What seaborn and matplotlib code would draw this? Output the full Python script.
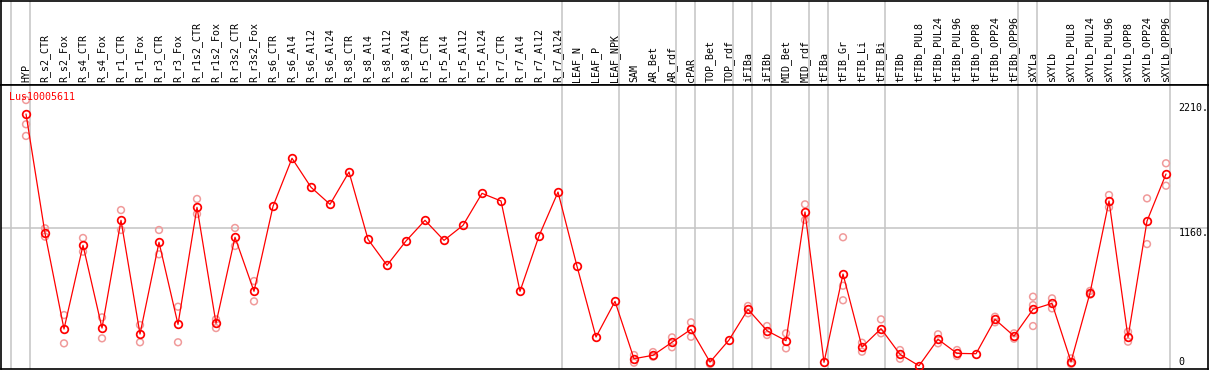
import numpy as np
import pandas as pd
import matplotlib
matplotlib.use("Agg")
import matplotlib.pyplot as plt
import seaborn as sns

# Expression profile for one gene across tissues / treatments
gene = "Lus10005611"

categories = [
    "HYP", "R_s2_CTR", "R_s2_Fox", "R_s4_CTR", "R_s4_Fox", "R_r1_CTR", "R_r1_Fox",
    "R_r3_CTR", "R_r3_Fox", "R_r1s2_CTR", "R_r1s2_Fox", "R_r3s2_CTR", "R_r3s2_Fox",
    "R_s6_CTR", "R_s6_Al4", "R_s6_Al12", "R_s6_Al24", "R_s8_CTR", "R_s8_Al4",
    "R_s8_Al12", "R_s8_Al24", "R_r5_CTR", "R_r5_Al4", "R_r5_Al12", "R_r5_Al24",
    "R_r7_CTR", "R_r7_Al4", "R_r7_Al12", "R_r7_Al24", "LEAF_N", "LEAF_P", "LEAF_NPK",
    "SAM", "AR_Bet", "AR_rdf", "cPAR", "TOP_Bet", "TOP_rdf", "iFIBa", "iFIBb",
    "MID_Bet", "MID_rdf", "tFIBa", "tFIB_Gr", "tFIB_Li", "tFIB_Bi", "tFIBb",
    "tFIBb_PUL8", "tFIBb_PUL24", "tFIBb_PUL96", "tFIBb_OPP8", "tFIBb_OPP24",
    "tFIBb_OPP96", "sXYLa", "sXYLb", "sXYLb_PUL8", "sXYLb_PUL24", "sXYLb_PUL96",
    "sXYLb_OPP8", "sXYLb_OPP24", "sXYLb_OPP96",
]

mean_expr = [
    2118, 1118, 316, 1018, 324, 1227, 274, 1043, 355, 1336, 364, 1085, 632,
    1344, 1747, 1504, 1361, 1632, 1068, 850, 1054, 1227, 1059, 1185, 1453,
    1389, 632, 1096, 1464, 842, 249, 548,
    67, 96, 205, 313, 39, 224, 481, 302, 218, 1297, 37, 777, 165, 319, 104,
    8, 230, 112, 109, 397, 257, 481, 531, 42, 618, 1389, 246, 1221, 1615,
]

# individual replicates (only where they show apart from the mean)
rep_sample = [
    "HYP", "HYP", "HYP", "R_s2_CTR", "R_s2_CTR", "R_s2_Fox", "R_s2_Fox",
    "R_s4_CTR", "R_s4_CTR", "R_s4_Fox", "R_s4_Fox", "R_r1_CTR", "R_r1_CTR",
    "R_r1_Fox", "R_r1_Fox", "R_r3_CTR", "R_r3_CTR", "R_r3_Fox", "R_r3_Fox",
    "R_r1s2_CTR", "R_r1s2_CTR", "R_r1s2_Fox", "R_r1s2_Fox", "R_r3s2_CTR",
    "R_r3s2_CTR", "R_r3s2_Fox", "R_r3s2_Fox",
    "SAM", "SAM", "AR_Bet", "AR_Bet", "AR_rdf", "AR_rdf", "cPAR", "cPAR",
    "TOP_Bet", "TOP_Bet", "iFIBa", "iFIBa", "iFIBb", "iFIBb", "MID_Bet", "MID_Bet",
    "MID_rdf", "MID_rdf", "tFIB_Gr", "tFIB_Gr", "tFIB_Gr", "tFIB_Li", "tFIB_Li",
    "tFIB_Bi", "tFIB_Bi", "tFIBb", "tFIBb", "tFIBb_PUL24", "tFIBb_PUL24",
    "tFIBb_PUL96", "tFIBb_PUL96", "tFIBb_OPP24", "tFIBb_OPP24", "tFIBb_OPP96",
    "tFIBb_OPP96", "sXYLa", "sXYLa", "sXYLa", "sXYLb", "sXYLb", "sXYLb_PUL8",
    "sXYLb_PUL8", "sXYLb_PUL24", "sXYLb_PUL24", "sXYLb_PUL96", "sXYLb_PUL96",
    "sXYLb_OPP8", "sXYLb_OPP8", "sXYLb_OPP24", "sXYLb_OPP24", "sXYLb_OPP96",
    "sXYLb_OPP96",
]
rep_expr = [
    2235, 2032, 1934, 1160, 1090, 433, 196,
    1079, 964, 414, 238, 1313, 1146,
    350, 205, 1146, 942, 503, 205,
    1406, 1280, 397, 324, 1163,
    1012, 718, 548,
    98, 34, 123, 84, 246, 163, 372, 251,
    34, 23, 509, 448, 341, 266, 280, 154,
    1361, 1230, 1085, 679, 557, 201, 126,
    397, 280, 140, 67, 272, 196,
    140, 90, 419, 372, 280,
    235, 587, 517, 341, 573, 489, 70,
    23, 635, 604, 1439, 1336,
    293, 210, 1411, 1028, 1705,
    1517,
]

# last sample of each block -> grey separator drawn just after it
group_last = ["", "HYP", "R_r7_Al24", "LEAF_NPK", "AR_rdf", "cPAR", "TOP_rdf",
              "iFIBa", "iFIBb", "MID_rdf", "tFIBa", "tFIB_Bi", "tFIBb_OPP96",
              "sXYLa", "sXYLb_OPP96"]

ytick_vals = [0, 1160, 2210]
ytick_text = ["0", "1160.", "2210."]

pos = {c: i for i, c in enumerate(categories)}
df = pd.DataFrame({"x": range(len(categories)), "expr": mean_expr})
reps = pd.DataFrame({"x": [pos[s] for s in rep_sample], "expr": rep_expr})
sep_x = [(pos[c] if c else -1) + 0.23 for c in group_last]

sns.set_theme(style="white")
plt.rcParams["font.family"] = ["DejaVu Sans Mono", "DejaVu Sans"]

W, H = 1209, 370
fig = plt.figure(figsize=(W / 100, H / 100), dpi=100)
top = 85
ax_head = fig.add_axes([0.5 / W, (H - top) / H, (W - 1.5) / W, (top - 0.5) / H])
ax = fig.add_axes([1 / W, 1 / H, (W - 2) / W, (H - top - 1) / H])

xlim = (-1.316, 62.21)
ylim = (-19, 2361)

red = "#ff0000"
pale = "#f09a9a"
grey = "#c4c4c4"

for a in (ax_head, ax):
    a.set_xlim(*xlim)
    for s in a.spines.values():
        s.set_color("black")
        s.set_linewidth(1.2)
    for xs in sep_x:
        a.axvline(xs, color=grey, lw=1.1, zorder=0)

ax_head.set_ylim(0, 1)
ax_head.set_xticks([])
ax_head.set_yticks([])
ax_head.patch.set_alpha(0)

ax.axhline(1160, color=grey, lw=1.1, zorder=0)

sns.scatterplot(data=reps, x="x", y="expr", ax=ax, marker="o", s=24,
                color=pale, facecolor="none", edgecolor=pale, linewidth=1.1,
                zorder=2, legend=False)
sns.lineplot(data=df, x="x", y="expr", ax=ax, color=red, lw=0.9,
             marker="o", markersize=5.5, markerfacecolor="none",
             markeredgecolor=red, markeredgewidth=1.25, zorder=3)

ax.set_ylim(*ylim)
ax.set_xlim(*xlim)
ax.set_xlabel("")
ax.set_ylabel("")
ax.set_yticks([])
ax.set_xticks(df["x"])
ax.set_xticklabels(categories, rotation=90, fontsize=7.2)
ax.xaxis.tick_top()
ax.tick_params(axis="x", length=0, pad=2, colors="black")

# value labels on the right edge
for v, t in zip(ytick_vals, ytick_text):
    ax.text(0.9755, v, t, transform=ax.get_yaxis_transform(), fontsize=7.2,
            ha="left", va="bottom" if v == 0 else "top", color="black")

ax.annotate(gene, xy=(0, 1), xycoords="axes fraction", xytext=(6, -5),
            textcoords="offset points", ha="left", va="top", fontsize=7.2,
            color=red, zorder=5)

fig.savefig("out.png", dpi=100)
